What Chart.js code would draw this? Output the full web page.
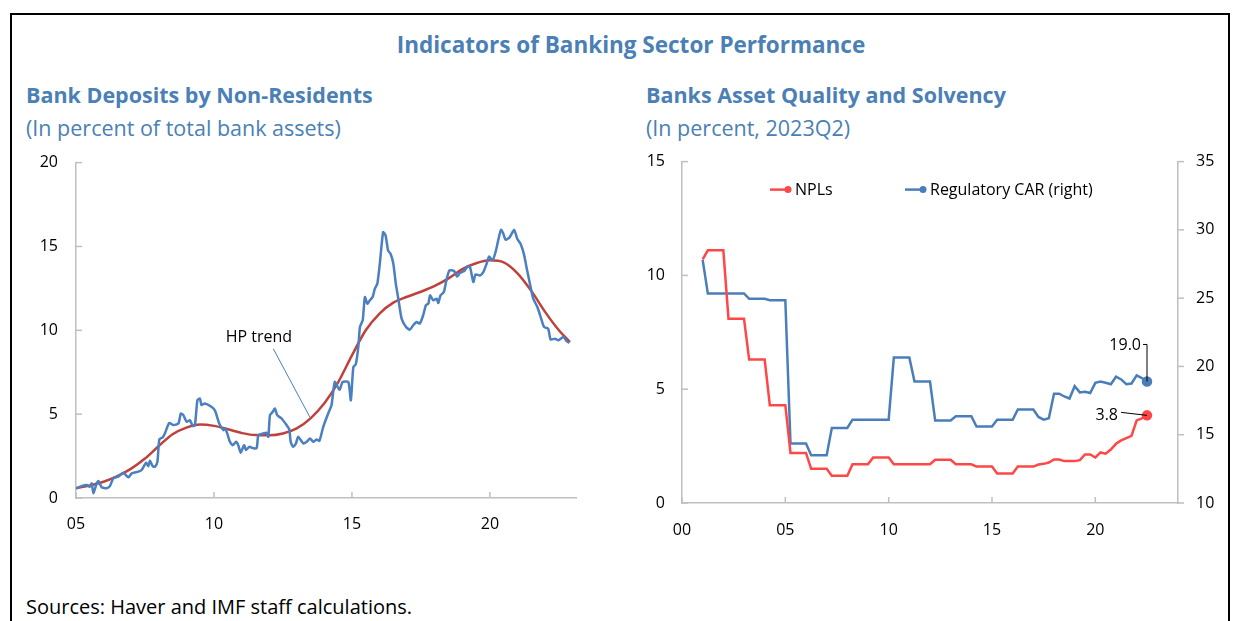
<!DOCTYPE html>
<html>
<head>
<meta charset="utf-8">
<script src="https://cdn.jsdelivr.net/npm/chart.js@4.4.0/dist/chart.umd.min.js"></script>
<style>
  body { margin: 0; width: 1236px; height: 621px; background: #fff; overflow: hidden; position: relative; font-family: "Open Sans", sans-serif; }
  .frame { position: absolute; left: 10px; top: 13px; width: 1216px; height: 700px; border: 2px solid #000; }
  .t { position: absolute; white-space: nowrap; line-height: 26px; color: #4a80b6; }
  .b { font-weight: bold; font-size: 21.5px; }
  .r { font-size: 21.5px; }
  .wrap { position: absolute; }
</style>
</head>
<body>
<div class="frame"></div>
<div class="t b" style="left:0;width:1262px;text-align:center;top:32px;font-size:22.5px">Indicators of Banking Sector Performance</div>
<div class="t b" style="left:26px;top:82px">Bank Deposits by Non-Residents</div>
<div class="t r" style="left:26px;top:115px">(In percent of total bank assets)</div>
<div class="t b" style="left:646px;top:82px">Banks Asset Quality and Solvency</div>
<div class="t r" style="left:646px;top:115px">(In percent, 2023Q2)</div>
<div class="t" style="left:26px;top:594px;font-size:20px;color:#000">Sources: Haver and IMF staff calculations.</div>

<div class="wrap" style="left:16px;top:135px"><canvas id="left" width="600" height="405"></canvas></div>
<div class="wrap" style="left:620px;top:134px"><canvas id="right" width="616" height="416"></canvas></div>

<script>
// left panel: deposits by non-residents, % of total bank assets
const depYears = [2005.02,2005.2,2005.39,2005.5,2005.57,2005.63,2005.75,2005.81,2005.93,2006.11,2006.23,2006.35,2006.53,2006.71,2006.9,
  2007.02,2007.26,2007.38,2007.54,2007.62,2007.68,2007.78,2007.86,2007.95,2008.02,2008.14,2008.22,2008.38,2008.53,2008.71,2008.8,2008.89,
  2009.01,2009.13,2009.23,2009.31,2009.4,2009.49,2009.55,2009.67,2009.92,2010.04,2010.19,2010.34,2010.4,2010.48,2010.58,2010.68,2010.8,
  2010.88,2010.97,2011.09,2011.16,2011.28,2011.43,2011.55,2011.61,2011.79,2011.91,2011.97,2012.03,2012.13,2012.21,2012.29,2012.45,2012.63,
  2012.73,2012.78,2012.87,2012.97,2013.05,2013.24,2013.36,2013.48,2013.6,2013.72,2013.82,2013.96,2014.14,2014.26,2014.38,2014.55,2014.66,
  2014.87,2014.96,2015.05,2015.14,2015.23,2015.29,2015.39,2015.47,2015.56,2015.65,2015.75,2015.83,2015.92,2016.01,2016.13,2016.22,2016.31,
  2016.4,2016.5,2016.59,2016.69,2016.8,2016.96,2017.1,2017.22,2017.35,2017.46,2017.58,2017.68,2017.77,2017.83,2017.95,2018.07,2018.13,
  2018.21,2018.33,2018.41,2018.53,2018.7,2018.81,2018.91,2019.09,2019.19,2019.28,2019.4,2019.48,2019.64,2019.76,2019.88,2019.97,2020.1,
  2020.22,2020.3,2020.4,2020.48,2020.57,2020.72,2020.88,2020.99,2021.11,2021.23,2021.35,2021.45,2021.57,2021.72,2021.84,2021.96,2022.11,
  2022.2,2022.36,2022.48,2022.66,2022.78,2022.88];
const depValues = [0.58,0.71,0.77,0.67,0.87,0.28,0.87,1.01,0.64,0.58,0.71,1.17,1.27,1.51,1.23,
  1.47,1.57,1.67,2.1,1.9,2.22,1.9,1.86,2.16,3.49,3.61,3.85,4.48,4.35,4.44,5.04,4.94,
  4.54,4.64,4.29,4.35,5.83,5.93,5.54,5.64,5.43,5.2,4.44,4.05,4.15,3.85,3.35,3.15,3.35,
  3.15,2.7,3.15,2.86,3.05,2.96,3.0,3.75,3.85,3.89,3.65,4.94,5.14,5.34,4.94,4.74,4.35,
  4.09,3.35,3.05,3.25,3.65,3.25,3.35,3.55,3.35,3.49,3.41,4.24,5.04,5.54,6.92,6.45,6.92,
  6.92,5.83,7.8,7.98,9.0,10.2,10.6,11.98,11.59,11.79,11.98,12.48,12.78,13.97,15.85,15.65,14.76,
  14.56,13.97,12.78,11.79,10.7,10.2,10.04,10.3,10.49,10.4,10.89,11.49,11.59,12.08,11.79,11.89,11.63,
  12.08,12.28,12.88,13.57,13.53,13.21,13.41,13.57,13.81,13.77,12.88,13.33,13.27,13.47,13.97,14.4,14.17,
  14.76,15.36,15.99,15.79,15.4,15.56,15.99,15.46,15.16,14.56,13.57,12.78,11.89,11.39,10.79,10.2,10.1,
  9.45,9.5,9.4,9.6,9.36,9.25];
const hpYears = [2005.0,2005.5,2006.0,2006.5,2007.0,2007.5,2008.0,2008.5,2009.0,2009.5,2010.0,2010.5,2011.0,2011.5,2012.0,2012.5,
  2013.0,2013.5,2014.0,2014.5,2015.0,2015.5,2016.0,2016.5,2017.0,2017.5,2018.0,2018.5,2019.0,2019.5,2020.0,2020.5,2021.0,2021.5,
  2022.0,2022.5,2022.9];
const hpValues = [0.58,0.75,0.97,1.3,1.75,2.35,3.1,3.8,4.2,4.38,4.3,4.1,3.88,3.75,3.74,3.85,
  4.15,4.75,5.65,6.9,8.5,10.0,11.0,11.65,12.0,12.3,12.65,13.1,13.65,14.0,14.17,14.05,13.4,12.35,
  11.1,10.0,9.3];
const leftTicksX = [2005, 2010, 2015, 2020];

// right panel: NPLs and regulatory CAR, quarterly from 2001Q1
const qStart = 2001;
const nplValues = [10.7,11.1,11.1,11.1, 11.1,8.1,8.1,8.1, 8.1,6.3,6.3,6.3, 6.3,4.3,4.3,4.3,
  4.3,2.2,2.2,2.2, 2.2,1.5,1.5,1.5, 1.5,1.2,1.2,1.2, 1.2,1.7,1.7,1.7, 1.7,2.0,2.0,2.0,
  2.0,1.7,1.7,1.7, 1.7,1.7,1.7,1.7, 1.7,1.9,1.9,1.9, 1.9,1.7,1.7,1.7, 1.7,1.6,1.6,1.6,
  1.6,1.3,1.3,1.3, 1.3,1.6,1.6,1.6, 1.6,1.69,1.72,1.78, 1.91,1.91,1.84,1.84, 1.84,1.88,2.13,2.13,
  2.0,2.22,2.17,2.35, 2.6,2.75,2.85,2.95, 3.63,3.72,3.85];
const carValues = [27.8,25.35,25.35,25.35, 25.35,25.35,25.35,25.35, 25.35,24.95,24.95,24.95, 24.95,24.85,24.85,24.85,
  24.85,14.35,14.35,14.35, 14.35,13.5,13.5,13.5, 13.5,15.5,15.5,15.5, 15.5,16.1,16.1,16.1, 16.1,16.1,16.1,16.1,
  16.1,20.65,20.65,20.65, 20.65,18.9,18.9,18.9, 18.9,16.05,16.05,16.05, 16.05,16.35,16.35,16.35, 16.35,15.6,15.6,15.6,
  15.6,16.1,16.1,16.1, 16.1,16.85,16.85,16.85, 16.85,16.3,16.1,16.2, 18.0,18.0,17.8,17.65, 18.55,18.1,18.15,18.05,
  18.8,18.9,18.8,18.7, 19.25,19.05,18.7,18.75, 19.35,19.15,18.9];
const rightTicksX = [2000, 2005, 2010, 2015, 2020];
const nplLast = '3.8';
const carLast = '19.0';

const FONT = '"Open Sans", sans-serif';
const AXIS = '#bfbfbf';
const yearLabel = v => String(v % 100).padStart(2, '0');
const pts = (xs, ys) => ys.map((y, i) => ({ x: xs[i], y: y }));
const qYears = nplValues.map((_, i) => qStart + i / 4);

// tick marks drawn inside the plot (outside for the right axis)
const innerTicks = {
  id: 'innerTicks',
  afterDraw(chart) {
    const ctx = chart.ctx, a = chart.chartArea;
    ctx.save();
    ctx.strokeStyle = AXIS;
    ctx.lineWidth = 1.5;
    Object.values(chart.scales).forEach(s => {
      s.ticks.forEach(t => {
        const p = s.getPixelForValue(t.value);
        ctx.beginPath();
        if (s.axis === 'x') { ctx.moveTo(p, a.bottom); ctx.lineTo(p, a.bottom - 6); }
        else if (s.position === 'left') { ctx.moveTo(a.left, p); ctx.lineTo(a.left + 6, p); }
        else { ctx.moveTo(a.right, p); ctx.lineTo(a.right + 6, p); }
        ctx.stroke();
      });
    });
    ctx.restore();
  }
};

const hpNote = {
  id: 'hpNote',
  afterDatasetsDraw(chart) {
    const ctx = chart.ctx, x = chart.scales.x, y = chart.scales.y;
    ctx.save();
    ctx.strokeStyle = '#4a7ebb';
    ctx.lineWidth = 1;
    ctx.beginPath();
    ctx.moveTo(x.getPixelForValue(2012.15), y.getPixelForValue(8.9));
    ctx.lineTo(x.getPixelForValue(2013.5), y.getPixelForValue(4.75));
    ctx.stroke();
    ctx.fillStyle = '#000';
    ctx.font = '16px ' + FONT;
    ctx.textAlign = 'center';
    ctx.textBaseline = 'middle';
    ctx.fillText('HP trend', x.getPixelForValue(2011.63), y.getPixelForValue(9.6));
    ctx.restore();
  }
};

const lastLabels = {
  id: 'lastLabels',
  afterDatasetsDraw(chart) {
    const ctx = chart.ctx;
    const pN = chart.getDatasetMeta(0).data.at(-1);
    const pC = chart.getDatasetMeta(1).data.at(-1);
    ctx.save();
    ctx.strokeStyle = '#000';
    ctx.lineWidth = 1;
    ctx.beginPath();
    ctx.moveTo(pC.x - 4, pC.y - 37);
    ctx.lineTo(pC.x, pC.y - 37);
    ctx.lineTo(pC.x, pC.y);
    ctx.moveTo(pN.x - 26, pN.y - 3);
    ctx.lineTo(pN.x, pN.y);
    ctx.stroke();
    ctx.fillStyle = '#000';
    ctx.font = '16px ' + FONT;
    ctx.textAlign = 'right';
    ctx.textBaseline = 'middle';
    ctx.fillText(carLast, pC.x - 6, pC.y - 36);
    ctx.fillText(nplLast, pN.x - 29, pN.y);
    ctx.restore();
  }
};

const legendIn = {
  id: 'legendIn',
  afterDraw(chart) {
    const ctx = chart.ctx, a = chart.chartArea;
    const yy = a.top + 28;
    const items = [[a.left + 88, '#ff4747', 'NPLs'], [a.left + 223, '#4a7ebb', 'Regulatory CAR (right)']];
    ctx.save();
    ctx.font = '16px ' + FONT;
    ctx.textBaseline = 'middle';
    items.forEach(([x0, c, txt]) => {
      ctx.strokeStyle = c; ctx.fillStyle = c; ctx.lineWidth = 2.5;
      ctx.beginPath(); ctx.moveTo(x0, yy); ctx.lineTo(x0 + 18, yy); ctx.stroke();
      ctx.beginPath(); ctx.arc(x0 + 18, yy, 3.5, 0, Math.PI * 2); ctx.fill();
      ctx.fillStyle = '#000';
      ctx.fillText(txt, x0 + 25, yy + 1);
    });
    ctx.restore();
  }
};

const tickFont = { family: FONT, size: 16 };

new Chart(document.getElementById('left'), {
  type: 'line',
  data: {
    datasets: [
      { data: pts(depYears, depValues), borderColor: '#4a7fc1', borderWidth: 2.5, pointRadius: 0, tension: 0.2 },
      { data: pts(hpYears, hpValues), borderColor: '#c0413b', borderWidth: 2.5, pointRadius: 0, cubicInterpolationMode: 'monotone' }
    ]
  },
  options: {
    responsive: false,
    animation: false,
    layout: { padding: { top: 12, right: 40, bottom: 0, left: 0 } },
    plugins: { legend: { display: false }, tooltip: { enabled: false } },
    scales: {
      x: {
        type: 'linear', min: 2005, max: 2023.12,
        afterBuildTicks: s => { s.ticks = leftTicksX.map(v => ({ value: v })); },
        afterFit: s => { s.height = 42; },
        grid: { display: false, drawTicks: false },
        border: { color: AXIS, width: 1.5 },
        ticks: { font: tickFont, color: '#000', padding: 17, maxRotation: 0, callback: yearLabel }
      },
      y: {
        min: 0, max: 20,
        afterFit: s => { s.width = 60; },
        grid: { display: false, drawTicks: false },
        border: { color: AXIS, width: 1.5 },
        ticks: { font: tickFont, color: '#000', padding: 18, stepSize: 5 }
      }
    }
  },
  plugins: [innerTicks, hpNote]
});

const lastOnly = arr => arr.map((_, i) => i === arr.length - 1 ? 4 : 0);

new Chart(document.getElementById('right'), {
  type: 'line',
  data: {
    datasets: [
      { data: pts(qYears, nplValues), yAxisID: 'y', borderColor: '#ff4747', backgroundColor: '#ff4747', borderWidth: 2.5, pointRadius: lastOnly(nplValues), tension: 0 },
      { data: pts(qYears, carValues), yAxisID: 'y1', borderColor: '#4a7ebb', backgroundColor: '#4a7ebb', borderWidth: 2.5, pointRadius: lastOnly(carValues), tension: 0 }
    ]
  },
  options: {
    responsive: false,
    animation: false,
    layout: { padding: { top: 20, right: 0, bottom: 0, left: 0 } },
    plugins: { legend: { display: false }, tooltip: { enabled: false } },
    scales: {
      x: {
        type: 'linear', min: 2000, max: 2024,
        afterBuildTicks: s => { s.ticks = rightTicksX.map(v => ({ value: v })); },
        afterFit: s => { s.height = 47; },
        grid: { display: false, drawTicks: false },
        border: { color: AXIS, width: 1.5 },
        ticks: { font: tickFont, color: '#000', padding: 18, maxRotation: 0, callback: yearLabel }
      },
      y: {
        position: 'left', min: 0, max: 15,
        afterFit: s => { s.width = 62; },
        grid: { display: false, drawTicks: false },
        border: { color: AXIS, width: 1.5 },
        ticks: { font: tickFont, color: '#000', padding: 17, stepSize: 5 }
      },
      y1: {
        position: 'right', min: 10, max: 35,
        afterFit: s => { s.width = 58; },
        grid: { display: false, drawTicks: false },
        border: { color: AXIS, width: 1.5 },
        ticks: { font: tickFont, color: '#000', padding: 18, stepSize: 5 }
      }
    }
  },
  plugins: [innerTicks, legendIn, lastLabels]
});
</script>
</body>
</html>
